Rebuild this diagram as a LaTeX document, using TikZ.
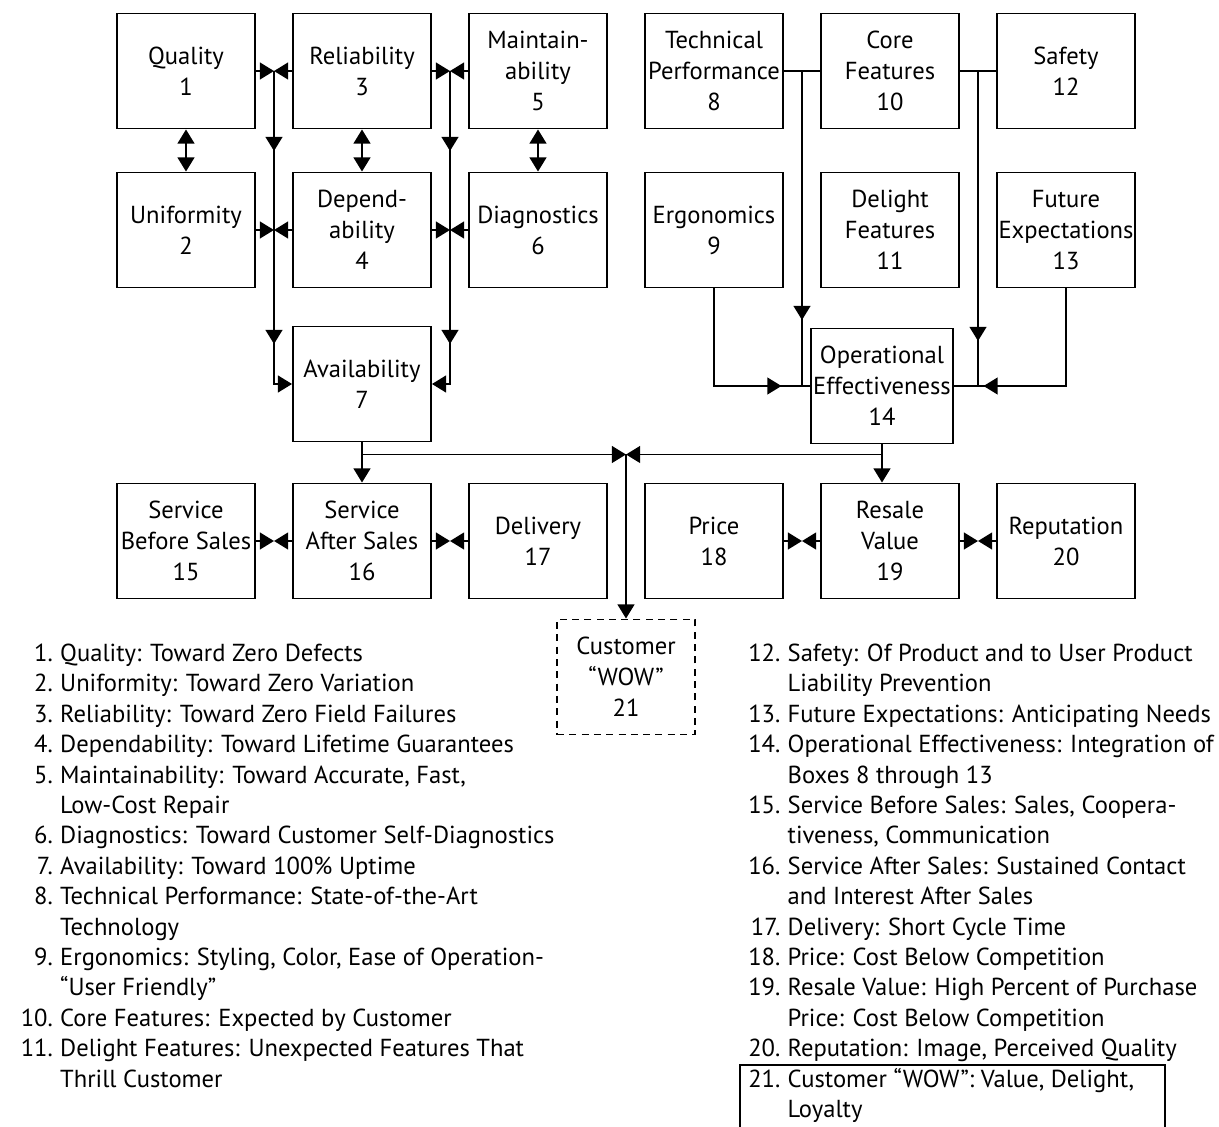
\documentclass[tikz,border=0pt]{standalone}
\usepackage{fontspec}
\setmainfont{PT Sans}
\usetikzlibrary{positioning,calc,arrows.meta,decorations.markings}

\newcommand{\listnum}[1]{\makebox[1.6em][r]{#1}\hspace{0.3em}}
\newcommand{\listgap}{\hspace*{1.9em}}

\begin{document}
\begin{tikzpicture}[node distance=3.18cm and 3.52cm, on grid, line width=1.1pt,
  >={Triangle[length=8pt,width=9.5pt]},
  box/.style={draw, minimum width=2.76cm, minimum height=2.3cm, align=center,
    inner sep=1pt, font=\fontsize{14}{17.6}\selectfont},
  wow/.style={box, dash pattern=on 4pt off 3pt},
  legend/.style={align=left, inner sep=0pt, font=\fontsize{14}{17.3}\selectfont},
  midtip/.style={postaction={decorate, decoration={markings,
    mark=at position #1 with {\arrow{>}}}}},
  midtips/.style 2 args={postaction={decorate, decoration={markings,
    mark=at position #1 with {\arrow{>}}, mark=at position #2 with {\arrow{>}}}}}]
  \useasboundingbox (0,0) rectangle (24.38,-22.54);

  % boxes
  \node[box]  (1)  at (3.72,-1.42)		{Quality\\1};
  \node[box]  (3)  [right=of 1]			{Reliability\\3};
  \node[box]  (5)  [right=of 3]			{Maintain-\\ability\\5};
  \node[box]  (8)  [right=of 5]			{Technical\\Performance\\8};
  \node[box]  (10) [right=of 8]			{Core\\Features\\10};
  \node[box]  (12) [right=of 10]		{Safety\\12};
  \node[box]  (2)  [below=of 1]			{Uniformity\\2};
  \node[box]  (4)  [below=of 3]			{Depend-\\ability\\4};
  \node[box]  (6)  [below=of 5]			{Diagnostics\\6};
  \node[box]  (9)  [below=of 8]			{Ergonomics\\9};
  \node[box]  (11) [below=of 10]		{Delight\\Features\\11};
  \node[box]  (13) [below=of 12]		{Future\\Expectations\\13};
  \node[box]  (7)  [below=3.08cm of 4]		{Availability\\7};
  \node[box]  (14) [below=3.12cm of 11, xshift=-0.16cm]	{Operational\\Effectiveness\\14};
  \node[box]  (16) [below=3.14cm of 7]		{Service\\After Sales\\16};
  \node[box]  (15) [left=of 16]			{Service\\Before Sales\\15};
  \node[box]  (17) [right=of 16]		{Delivery\\17};
  \node[box]  (18) [right=of 17]		{Price\\18};
  \node[box]  (19) [right=of 18]		{Resale\\Value\\19};
  \node[box]  (20) [right=of 19]		{Reputation\\20};
  \node[wow]  (21) [below right=2.72cm and 1.76cm of 17]	{Customer\\``WOW''\\21};

  % left block
  \coordinate (a) at ($(1.east)!.5!(3.west)$);
  \coordinate (b) at ($(3.east)!.5!(5.west)$);
  \path[->]
   (1) edge (a)  (3) edge (a)  (3) edge (b)  (5) edge (b)
   (2) edge (a |- 2)  (4) edge (a |- 4)  (4) edge (b |- 4)  (6) edge (b |- 6);
  \path[<->]
   (1) edge (2)  (3) edge (4)  (5) edge (6);
  \draw[->, midtips={1.6cm}{5.46cm}] (a) |- (7.west);
  \draw[->, midtips={1.6cm}{5.46cm}] (b) |- (7.east);

  % right block
  \coordinate (c) at ($(8.east)!.5!(10.west)$);
  \coordinate (d) at ($(10.east)!.5!(12.west)$);
  \draw (8) -- (10)  (10) -- (12);
  \draw[midtip=-1.32cm] (c) -- (c |- 14.west);
  \draw[midtip=-0.9cm] (d) -- (d |- 14.east);
  \draw[midtip=-0.58cm] (9) |- (14.west);
  \draw[midtip=-0.6cm] (13) |- (14.east);

  % to the bottom row
  \path (7.south) -- (16.north) coordinate[pos=.3] (e);
  \coordinate (f) at (e -| 21.north);
  \draw[->] (7) -- (16);
  \draw[->] (14.south) -- (14.south |- 19.north);
  \draw[->] (e) -- (f);
  \draw[->] (14.south |- e) -- (f);
  \draw[->] (f) -- (21);

  \coordinate (g) at ($(15.east)!.5!(16.west)$);
  \coordinate (h) at ($(16.east)!.5!(17.west)$);
  \coordinate (i) at ($(18.east)!.5!(19.west)$);
  \coordinate (j) at ($(19.east)!.5!(20.west)$);
  \path[->]
   (15) edge (g)  (16) edge (g)  (16) edge (h)  (17) edge (h)
   (18) edge (i)  (19) edge (i)  (19) edge (j)  (20) edge (j);

  % key
  \node[legend, anchor=north west] (keyA) at (0.25,-12.86) {%
    \listnum{1.}Quality: Toward Zero Defects\\
    \listnum{2.}Uniformity: Toward Zero Variation\\
    \listnum{3.}Reliability: Toward Zero Field Failures\\
    \listnum{4.}Dependability: Toward Lifetime Guarantees\\
    \listnum{5.}Maintainability: Toward Accurate, Fast,\\
    \listgap Low-Cost Repair\\
    \listnum{6.}Diagnostics: Toward Customer Self-Diagnostics\\
    \listnum{7.}Availability: Toward 100\% Uptime\\
    \listnum{8.}Technical Performance: State-of-the-Art\\
    \listgap Technology\\
    \listnum{9.}Ergonomics: Styling, Color, Ease of Operation-\\
    \listgap ``User Friendly''\\
    \listnum{10.}Core Features: Expected by Customer\\
    \listnum{11.}Delight Features: Unexpected Features That\\
    \listgap Thrill Customer};
  \node[legend, anchor=north west] (keyB) at (14.8,-12.86) {%
    \listnum{12.}Safety: Of Product and to User Product\\
    \listgap Liability Prevention\\
    \listnum{13.}Future Expectations: Anticipating Needs\\
    \listnum{14.}Operational Effectiveness: Integration of\\
    \listgap Boxes 8 through 13\\
    \listnum{15.}Service Before Sales: Sales, Coopera-\\
    \listgap tiveness, Communication\\
    \listnum{16.}Service After Sales: Sustained Contact\\
    \listgap and Interest After Sales\\
    \listnum{17.}Delivery: Short Cycle Time\\
    \listnum{18.}Price: Cost Below Competition\\
    \listnum{19.}Resale Value: High Percent of Purchase\\
    \listgap Price: Cost Below Competition\\
    \listnum{20.}Reputation: Image, Perceived Quality\\
    \listnum{21.}Customer ``WOW'': Value, Delight,\\
    \listgap Loyalty};
  \draw[line width=0.9pt] (14.8,-23) |- (23.3,-21.3) -- (23.3,-23);
\end{tikzpicture}
\end{document}
